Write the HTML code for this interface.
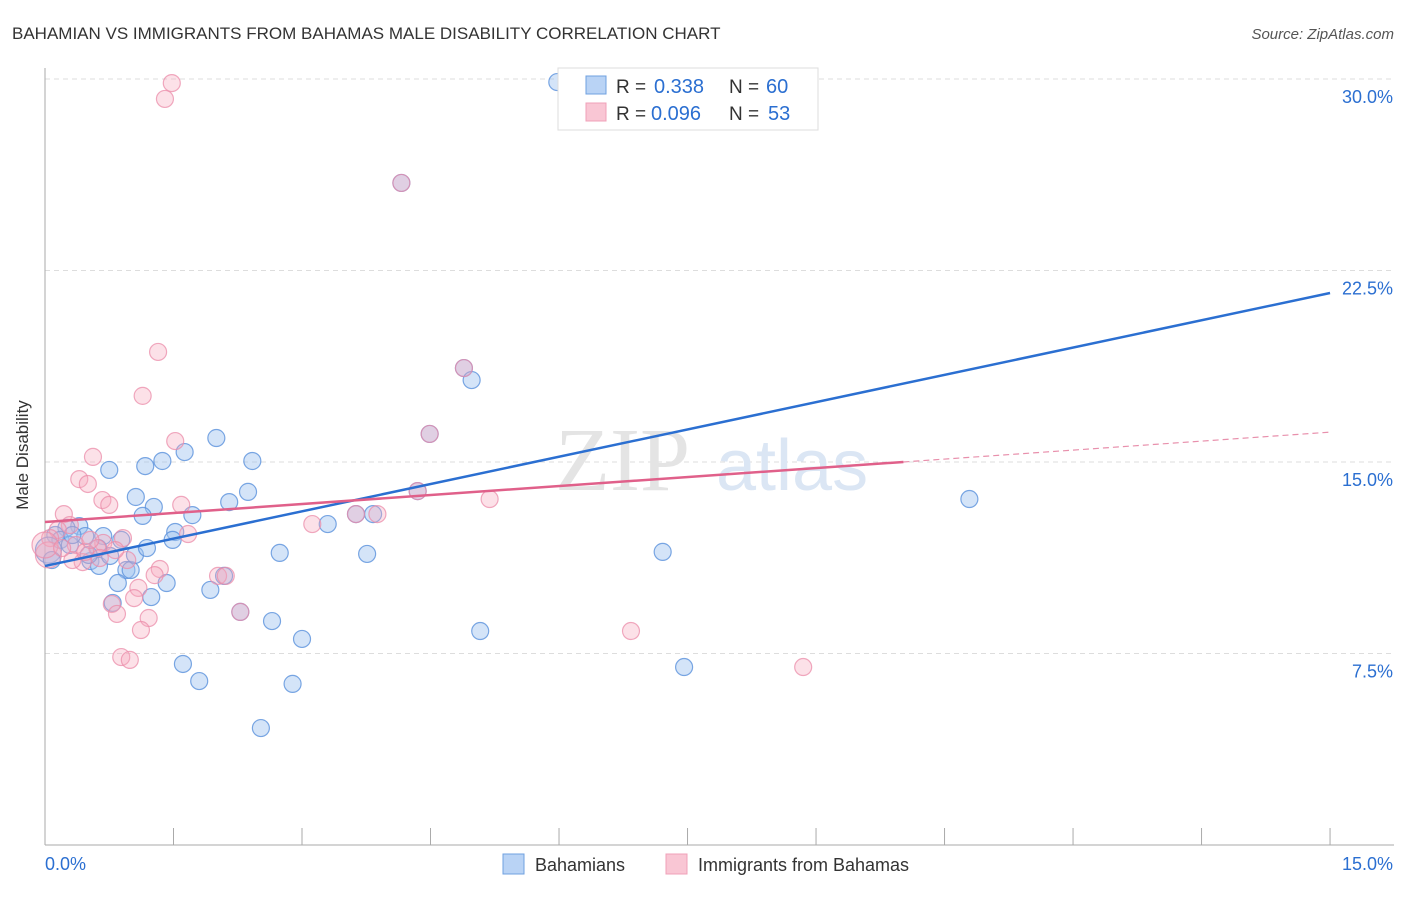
<!DOCTYPE html>
<html><head><meta charset="utf-8"><style>
body{margin:0;background:#fff;font-family:"Liberation Sans",sans-serif;}
</style></head><body>
<svg width="1406" height="892" viewBox="0 0 1406 892" xmlns="http://www.w3.org/2000/svg">
<text x="12" y="39" font-size="17" fill="#333">BAHAMIAN VS IMMIGRANTS FROM BAHAMAS MALE DISABILITY CORRELATION CHART</text>
<text x="1394" y="39" font-size="15" fill="#555" text-anchor="end" font-style="italic">Source: ZipAtlas.com</text>
<g id="grid"></g>
<text x="555" y="490" font-size="90" fill="#e4e4e4" font-family="Liberation Serif,serif">ZIP</text>
<text x="716" y="490" font-size="72" fill="#dbe6f4">atlas</text>
<g id="axes"></g>
<g id="points"></g>
<g id="lines"></g>
<text x="28" y="455" font-size="17" fill="#333" text-anchor="middle" transform="rotate(-90 28 455)">Male Disability</text>
<g>
<rect x="558" y="68" width="260" height="62" fill="#fff" stroke="#ddd"/>
<rect x="586" y="76" width="20" height="18" fill="#b9d3f5" stroke="#6fa0e0"/>
<rect x="586" y="103" width="20" height="18" fill="#f9c6d4" stroke="#f0a0b8"/>
<text x="616" y="93" font-size="19" fill="#333">R =</text>
<text x="654" y="93" font-size="20" fill="#2b6fd1">0.338</text>
<text x="729" y="93" font-size="19" fill="#333">N =</text>
<text x="766" y="93" font-size="20" fill="#2b6fd1">60</text>
<text x="616" y="120" font-size="19" fill="#333">R =</text>
<text x="651" y="120" font-size="20" fill="#2b6fd1">0.096</text>
<text x="729" y="120" font-size="19" fill="#333">N =</text>
<text x="768" y="120" font-size="20" fill="#2b6fd1">53</text>
</g>
<g>
<rect x="503" y="854" width="21" height="20" fill="#b9d3f5" stroke="#6fa0e0"/>
<text x="535" y="871" font-size="18" fill="#333">Bahamians</text>
<rect x="666" y="854" width="21" height="20" fill="#f9c6d4" stroke="#f0a0b8"/>
<text x="698" y="871" font-size="18" fill="#333">Immigrants from Bahamas</text>
</g>
</svg>
<script>
const yTicks=[7.5,15,22.5,30];
const yTickLabels=["7.5%","15.0%","22.5%","30.0%"];
const xTickLabels=["0.0%","15.0%"];
const blueX=[5.98,4.16,4.89,4.98,4.49,2.00,1.63,1.37,2.42,1.17,0.75,10.79,1.06,2.37,2.15,1.27,1.14,1.72,3.30,3.63,3.83,4.35,0.40,1.52,0.25,0.47,0.68,0.89,1.49,0.62,2.74,3.76,7.21,0.53,0.63,0.95,1.00,0.85,1.42,1.24,1.93,2.09,0.79,2.28,2.65,3.00,5.08,7.46,1.61,1.80,2.89,2.52,0.12,0.18,0.04,0.29,0.51,1.05,0.32,0.76,0.08,1.19];
const blueY=[29.88,25.93,18.68,18.21,16.10,15.94,15.39,15.04,15.04,14.84,14.69,13.55,13.63,13.83,13.43,13.24,12.89,12.92,12.57,12.96,12.96,13.86,12.49,12.26,12.42,12.10,12.10,11.95,11.95,11.63,11.44,11.40,11.48,11.12,10.93,10.77,10.77,10.26,10.26,9.71,9.99,10.54,9.48,9.13,8.77,8.07,8.38,6.97,7.09,6.42,6.31,4.58,12.14,11.95,11.55,11.75,11.36,11.36,12.14,11.32,11.16,11.63];
const pinkX=[1.48,1.40,4.16,1.32,1.14,1.52,0.56,0.40,0.50,0.67,0.75,1.59,5.19,0.22,3.63,3.88,3.12,0.29,0.15,0.06,0.36,0.04,0.68,0.91,1.67,0.61,0.44,0.32,0.96,2.02,2.11,1.34,1.28,1.09,1.04,0.78,0.84,1.21,1.12,2.28,6.84,8.85,0.89,0.99,4.89,4.35,4.49,0.47,0.64,0.0,0.2,0.53,0.82];
const pinkY=[29.84,29.22,25.93,19.31,17.59,15.82,15.20,14.33,14.14,13.51,13.32,13.32,13.55,12.96,12.96,12.96,12.57,12.53,12.34,12.02,11.75,11.36,11.83,12.02,12.18,11.63,11.08,11.16,11.16,10.54,10.54,10.81,10.57,10.07,9.67,9.44,9.05,8.89,8.42,9.13,8.38,6.97,7.36,7.25,18.68,13.86,16.10,11.48,11.24,11.75,11.63,11.95,11.55];
const blueLine=[10.93,21.62];
const pinkLine=[12.65,16.17];
const pinkSolidEnd=10.02;
const X=v=>45+v*85.67, Y=v=>845-v*25.533;
const NS="http://www.w3.org/2000/svg";
function mk(tag,attrs,parent){const e=document.createElementNS(NS,tag);for(const k in attrs)e.setAttribute(k,attrs[k]);parent.appendChild(e);return e;}
const grid=document.getElementById('grid'),axes=document.getElementById('axes'),pts=document.getElementById('points'),lines=document.getElementById('lines');
yTicks.forEach((t,i)=>{
 const l=mk('line',{x1:45,x2:1394,y1:Y(t),y2:Y(t),stroke:'#ddd','stroke-dasharray':'5,4'},grid);
 
 
 const tx=mk('text',{x:1393,y:Y(t)+24,'font-size':18,fill:'#2b6fd1','text-anchor':'end'},axes);
 tx.textContent=yTickLabels[i];
 
 
});
const ax=mk('line',{x1:45,x2:45,y1:68,y2:845,stroke:'#aaa'},axes);


const bx=mk('line',{x1:45,x2:1394,y1:845,y2:845,stroke:'#aaa'},axes);


for(let i=1;i<=10;i++){const t=mk('line',{x1:X(i*1.5),x2:X(i*1.5),y1:828,y2:845,stroke:'#aaa'},axes);
 
 }
const xl0=mk('text',{x:45,y:870,'font-size':18,fill:'#2b6fd1'},axes);xl0.textContent=xTickLabels[0];


const xl1=mk('text',{x:1393,y:870,'font-size':18,fill:'#2b6fd1','text-anchor':'end'},axes);xl1.textContent=xTickLabels[1];


function dots(xs,ys,fill,stroke,name){xs.forEach((x,i)=>{const r=(x<0.05)?13:8.5;
 const c=mk('circle',{cx:X(x),cy:Y(ys[i]),r:r,fill:fill,stroke:stroke,'stroke-width':1.2},pts);
 
 });}
dots(blueX,blueY,'rgba(160,195,240,0.45)','rgba(90,145,220,0.8)','bahamian-point');
dots(pinkX,pinkY,'rgba(245,170,190,0.35)','rgba(235,140,170,0.75)','immigrant-point');
const bl=mk('line',{x1:X(0),y1:Y(blueLine[0]),x2:X(15),y2:Y(blueLine[1]),stroke:'#2b6fd1','stroke-width':2.5},lines);


const py=v=>pinkLine[0]+(pinkLine[1]-pinkLine[0])*v/15;
const pl=mk('line',{x1:X(0),y1:Y(pinkLine[0]),x2:X(pinkSolidEnd),y2:Y(py(pinkSolidEnd)),stroke:'#e0608a','stroke-width':2.5},lines);


const pd=mk('line',{x1:X(pinkSolidEnd),y1:Y(py(pinkSolidEnd)),x2:X(15),y2:Y(pinkLine[1]),stroke:'#e890ac','stroke-width':1.2,'stroke-dasharray':'6,4'},lines);


</script>
</body></html>
